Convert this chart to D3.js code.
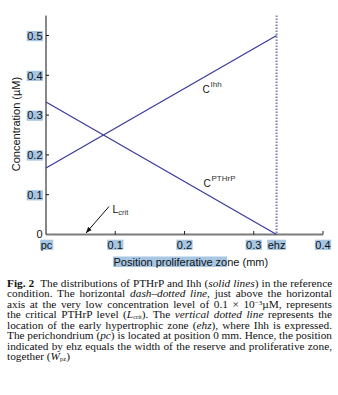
<!DOCTYPE html>
<html>
<head>
<meta charset="utf-8">
<script src="https://cdn.jsdelivr.net/npm/d3@7"></script>
<style>
  html, body { margin: 0; padding: 0; background: #fff; }
  #wrap { position: relative; width: 338px; height: 395px; overflow: hidden; }
  svg { position: absolute; left: 0; top: 0; }
  .cap { position: absolute; left: 7px; white-space: nowrap; font-family: "Liberation Serif", "Times New Roman", serif;
         font-size: 11.3px; line-height: 10.5px; color: #111; transform-origin: 0 0; }
  .cap sup, .cap sub { font-size: 7px; line-height: 0; }
  .cap sup { vertical-align: 3.5px; }
  .cap sub { vertical-align: -1px; font-size: 6.5px; }
</style>
</head>
<body>
<div id="wrap"></div>
<script>
// ---- data ----
const positions = [0, 0.333];           // mm, pc .. ehz
const pthrp = [0.333, 0];                // µM
const ihh = [0.167, 0.5];                // µM
const lcrit = 0.0001;                    // µM
const ehz = 0.333;                       // mm
const xTickValues = [0, 0.1, 0.2, 0.3, 0.333, 0.4];
const xTickLabels = ["pc", "0.1", "0.2", "0.3", "ehz", "0.4"];
const yTickValues = [0, 0.1, 0.2, 0.3, 0.4, 0.5];
const yTickLabels = ["0", "0.1", "0.2", "0.3", "0.4", "0.5"];
const captionLines = [
  '<b>Fig. 2</b>&nbsp; The distributions of PTHrP and Ihh (<i>solid lines</i>) in the reference',
  'condition. The horizontal <i>dash–dotted line</i>, just above the horizontal',
  'axis at the very low concentration level of 0.1 × 10<sup>−3</sup>µM, represents',
  'the critical PTHrP level (<i>L</i><sub>crit</sub>). The <i>vertical dotted line</i> represents the',
  'location of the early hypertrophic zone (<i>ehz</i>), where Ihh is expressed.',
  'The perichondrium (<i>pc</i>) is located at position 0 mm. Hence, the position',
  'indicated by ehz equals the width of the reserve and proliferative zone,',
  'together (<i>W</i><sub>pz</sub>)'
];

const HL = "#a6c6e3";
const LINE = "#3c3c9c";
const FONT = "'Liberation Sans', Arial, Helvetica, sans-serif";

const wrap = d3.select("#wrap");
const svg = wrap.append("svg").attr("width", 338).attr("height", 275);

const x = d3.scaleLinear().domain([0, 0.4]).range([46, 323]);
const y = d3.scaleLinear().domain([0, 0.55]).range([234.5, 15.6]);

// Lcrit dash-dotted line (just above axis)
svg.append("line")
  .attr("x1", x(0)).attr("x2", x(0.4))
  .attr("y1", y(lcrit)).attr("y2", y(lcrit))
  .attr("stroke", "#7c7c7c").attr("stroke-width", 2);

// y axis
svg.append("line").attr("x1", x(0)).attr("x2", x(0)).attr("y1", y(0.55)).attr("y2", y(0))
  .attr("stroke", "#111").attr("stroke-width", 1);
yTickValues.forEach((v) => {
  if (v > 0) {
    svg.append("line").attr("x1", x(0)).attr("x2", x(0) + 3).attr("y1", y(v)).attr("y2", y(v))
      .attr("stroke", "#111").attr("stroke-width", 1);
  }
});

// x ticks
xTickValues.forEach((v, i) => {
  if (v > 0 && xTickLabels[i] !== "ehz") {
    svg.append("line").attr("x1", x(v)).attr("x2", x(v)).attr("y1", y(0)).attr("y2", y(0) - 3.5)
      .attr("stroke", "#222").attr("stroke-width", 1);
  }
});

// tick labels with highlight
function hlText(g, tx, ty, txt, anchor, highlight) {
  const t = g.append("text").attr("x", tx).attr("y", ty).attr("text-anchor", anchor)
    .attr("font-family", FONT).attr("font-size", 11).attr("fill", "#111").text(txt);
  if (highlight) {
    const b = t.node().getBBox();
    g.insert("rect", () => t.node()).attr("x", b.x - 0.5).attr("y", ty - 8.8)
      .attr("width", b.width + 1).attr("height", 10.2).attr("fill", HL);
  }
  return t;
}
const labG = svg.append("g");
yTickValues.forEach((v, i) => {
  const g = labG.append("g");
  if (v === 0) hlText(g, 42.5, y(v) + 3.5, yTickLabels[i], "end", false);
  else hlText(g, 42.5, y(v) + 4.3, yTickLabels[i], "end", true);
});
xTickValues.forEach((v, i) => {
  const g = labG.append("g");
  hlText(g, x(v) + (i === 0 ? 0.5 : 0), 248.5, xTickLabels[i], "middle", true);
});

// x title with partial highlight
const xt = svg.append("text").attr("x", 113.5).attr("y", 265.5)
  .attr("font-family", FONT).attr("font-size", 11).attr("fill", "#111")
  .text("Position proliferative zone (mm)");
const wPart = xt.node().getSubStringLength(0, 25);
svg.insert("rect", () => xt.node()).attr("x", 113).attr("y", 256.5).attr("width", wPart + 0.5).attr("height", 10.5).attr("fill", HL);

// y title
svg.append("text").attr("transform", "translate(19.5,124) rotate(-90)")
  .attr("text-anchor", "middle").attr("font-family", FONT).attr("font-size", 11).attr("fill", "#111")
  .text("Concentration (µM)");

// ehz dotted line
svg.append("line").attr("x1", x(ehz)).attr("x2", x(ehz)).attr("y1", y(0.55)).attr("y2", y(0))
  .attr("stroke", "#7d7dc6").attr("stroke-width", 2).attr("stroke-dasharray", "1.5,1.5");

// curves
const line = d3.line().x((d, i) => x(positions[i])).y(d => y(d));
svg.append("path").attr("d", line(pthrp)).attr("fill", "none").attr("stroke", LINE).attr("stroke-width", 1.3);
svg.append("path").attr("d", line(ihh)).attr("fill", "none").attr("stroke", LINE).attr("stroke-width", 1.3);

// curve labels
function cLabel(cx, cy, sup) {
  const t = svg.append("text").attr("x", cx).attr("y", cy).attr("font-family", FONT).attr("fill", "#111");
  t.append("tspan").attr("font-size", 10).text("C");
  t.append("tspan").attr("font-size", 8).attr("dy", -6.2).attr("dx", 0.8).attr("fill", "#333").text(sup);
}
cLabel(202.5, 93, "Ihh");
cLabel(203.5, 187, "PTHrP");

// Lcrit label and arrow
const lt = svg.append("text").attr("x", 112.5).attr("y", 212.8).attr("font-family", FONT).attr("fill", "#111");
lt.append("tspan").attr("font-size", 10.5).text("L");
lt.append("tspan").attr("font-size", 7.5).attr("dy", 2.5).attr("fill", "#333").text("crit");

svg.append("defs").append("marker").attr("id", "ah").attr("viewBox", "0 0 10 10")
  .attr("refX", 10).attr("refY", 5).attr("markerWidth", 6).attr("markerHeight", 6)
  .attr("markerUnits", "userSpaceOnUse").attr("orient", "auto")
  .append("path").attr("d", "M0,1 L10,5 L0,9 Z").attr("fill", "#111");
svg.append("line").attr("x1", 109).attr("y1", 206.5).attr("x2", 86).attr("y2", 233)
  .attr("stroke", "#111").attr("stroke-width", 1).attr("marker-end", "url(#ah)");

// caption: each line fitted to the column width
const TARGET = 325;
captionLines.forEach((html, i) => {
  const d = wrap.append("div").attr("class", "cap").style("top", (277.8 + i * 10.5) + "px").html(html);
  if (i < captionLines.length - 1) {
    const node = d.node();
    const w = node.getBoundingClientRect().width;
    const spaces = (node.textContent.match(/ /g) || []).length;
    if (w > TARGET) {
      d.style("transform", `scaleX(${TARGET / w})`);
    } else if (spaces > 0) {
      d.style("word-spacing", ((TARGET - w) / spaces) + "px");
    }
  }
});
</script>
</body>
</html>
